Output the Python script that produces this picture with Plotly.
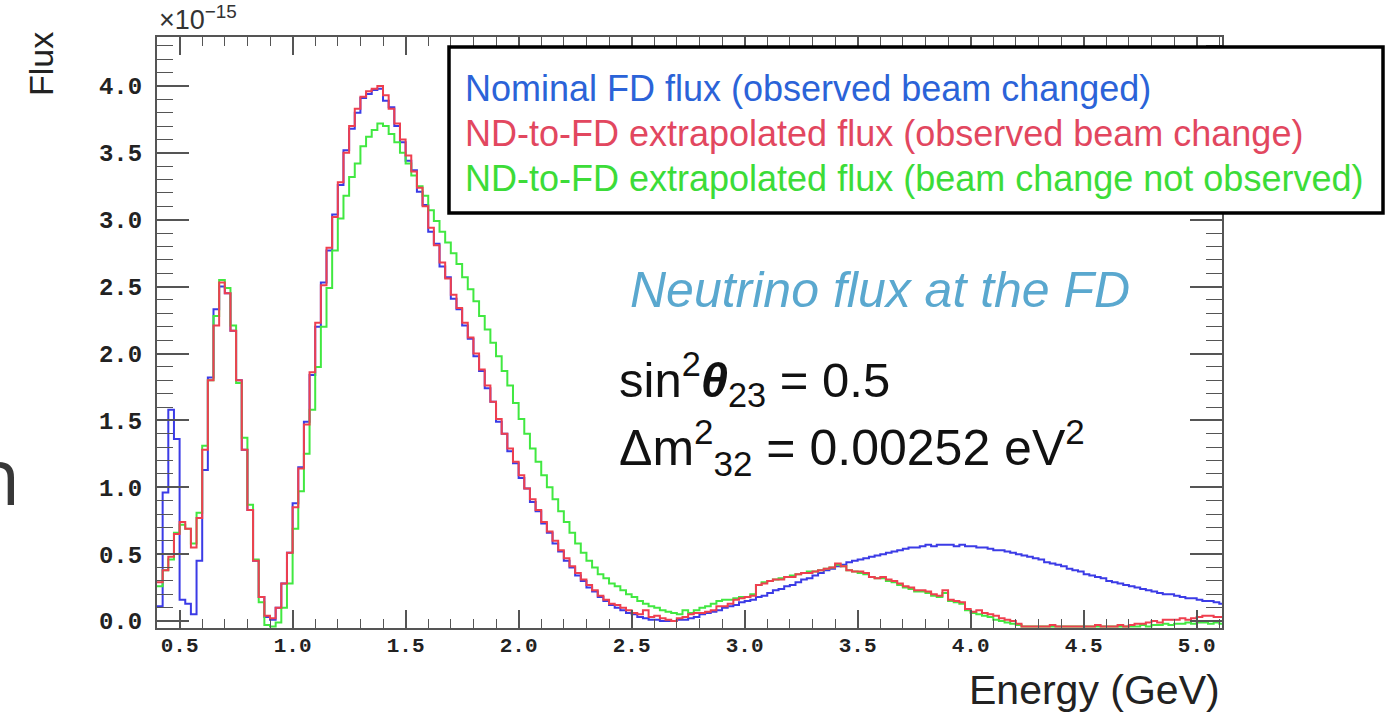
import plotly.graph_objects as go

# Binning of the energy histograms (GeV)
E_MIN = 0.4
BIN_W = 0.025

# Flux per bin, in units of 1e-15
nominal_fd = [
    0.11, 0.96, 1.58, 1.36, 0.16, 0.13, 0.05, 0.45, 1.13, 1.82,
    2.33, 2.50, 2.45, 2.17, 1.80, 1.28, 0.83, 0.45, 0.18, 0.03,
    0.01, 0.10, 0.28, 0.51, 0.88, 1.15, 1.49,
    1.84, 2.20, 2.53, 2.77, 3.04, 3.26, 3.52, 3.68, 3.80, 3.91,
    3.94, 3.97, 3.98, 3.89, 3.84, 3.70, 3.58, 3.44, 3.37, 3.21,
    3.11, 2.91, 2.82, 2.65, 2.57, 2.41, 2.33, 2.21, 2.11, 1.98,
    1.87, 1.74, 1.64, 1.49, 1.40, 1.27, 1.18, 1.07, 0.99, 0.89,
    0.82, 0.73, 0.66, 0.58, 0.52, 0.45, 0.40, 0.34, 0.30, 0.25,
    0.22, 0.18, 0.15, 0.12, 0.10, 0.08, 0.06, 0.05, 0.03, 0.02,
    0.01, 0.01, 0.00, 0.00, 0.00, 0.01, 0.01, 0.02, 0.03,
    0.05, 0.06, 0.07, 0.08, 0.10, 0.11, 0.12, 0.14, 0.15, 0.16,
    0.18, 0.19, 0.21, 0.23, 0.24, 0.26, 0.27, 0.29, 0.31, 0.32,
    0.34, 0.36, 0.38, 0.39, 0.41, 0.42, 0.44, 0.45, 0.46, 0.47,
    0.48, 0.49, 0.50, 0.51, 0.52, 0.53, 0.54, 0.55, 0.55, 0.56,
    0.57, 0.56, 0.57, 0.57, 0.57, 0.56, 0.57, 0.56, 0.56, 0.55,
    0.55, 0.54, 0.53, 0.53, 0.52, 0.51, 0.50, 0.49, 0.48, 0.47,
    0.46, 0.44, 0.43, 0.42, 0.41, 0.39, 0.38, 0.37, 0.35, 0.34,
    0.33, 0.32, 0.30, 0.29, 0.28, 0.27, 0.26, 0.25, 0.24, 0.23,
    0.22, 0.21, 0.20, 0.20, 0.19, 0.18, 0.17, 0.17, 0.16, 0.15,
    0.15, 0.14, 0.13,
]

extrap_observed = [
    0.29, 0.38, 0.48, 0.65, 0.74, 0.69, 0.55, 0.77, 1.28, 1.80,
    2.21, 2.53, 2.45, 2.17, 1.80, 1.28, 0.83, 0.45, 0.18, 0.04,
    0.02, 0.10, 0.28, 0.51, 0.85, 1.14, 1.47,
    1.86, 2.23, 2.51, 2.79, 3.02, 3.28, 3.50, 3.70, 3.83, 3.92,
    3.96, 3.98, 4.00, 3.93, 3.83, 3.72, 3.60, 3.48, 3.36, 3.24,
    3.10, 2.94, 2.81, 2.68, 2.56, 2.44, 2.34, 2.23, 2.12, 2.00,
    1.88, 1.76, 1.64, 1.51, 1.40, 1.29, 1.19, 1.09, 0.99, 0.91,
    0.83, 0.74, 0.67, 0.60, 0.53, 0.47, 0.41, 0.36, 0.31, 0.27,
    0.23, 0.19, 0.16, 0.13, 0.12, 0.10, 0.08, 0.06, 0.05, 0.08,
    0.03, 0.04, 0.02, 0.01, 0.00, 0.02, 0.03, 0.05, 0.06,
    0.06, 0.07, 0.08, 0.11, 0.11, 0.13, 0.16, 0.17,
    0.18, 0.19, 0.27, 0.28, 0.30, 0.31, 0.31, 0.33, 0.33, 0.35,
    0.36, 0.36, 0.37, 0.38, 0.39, 0.40, 0.43, 0.41, 0.38, 0.37,
    0.37, 0.36, 0.33, 0.32, 0.33, 0.31, 0.30, 0.28, 0.26, 0.25,
    0.23, 0.23, 0.22, 0.20, 0.19, 0.23, 0.16, 0.15, 0.14, 0.09,
    0.07, 0.08, 0.06, 0.05, 0.04, 0.02, 0.01, 0.00, -0.02,
    -0.04, -0.04, -0.04, -0.04, -0.04, -0.03, -0.04, -0.04, -0.04, -0.04,
    -0.04, -0.04, -0.04, -0.03, -0.04, -0.04, -0.04, -0.03, -0.04,
    -0.03, -0.02, -0.02, -0.01, 0.00, -0.01, 0.01, 0.01, 0.01, 0.02,
    0.01, 0.02, 0.03, 0.04, 0.04, 0.03, 0.03,
]

extrap_not_observed = [
    0.26, 0.38, 0.46, 0.66, 0.72, 0.69, 0.58, 0.81, 1.31, 1.80,
    2.28, 2.55, 2.49, 2.21, 1.78, 1.37, 0.87, 0.46, 0.14, -0.03,
    -0.04, -0.01, 0.10, 0.28, 0.69, 0.97, 1.25,
    1.58, 1.90, 2.20, 2.49, 2.77, 3.01, 3.18, 3.32, 3.42, 3.55,
    3.62, 3.67, 3.72, 3.70, 3.64, 3.58, 3.50, 3.42, 3.33, 3.25,
    3.18, 3.07, 2.99, 2.91, 2.83, 2.75, 2.67, 2.57, 2.48, 2.39,
    2.28, 2.18, 2.08, 1.98, 1.87, 1.76, 1.63, 1.51, 1.40, 1.29,
    1.19, 1.09, 1.00, 0.91, 0.82, 0.74, 0.66, 0.58, 0.51, 0.45,
    0.40, 0.35, 0.32, 0.28, 0.26, 0.23, 0.20, 0.18, 0.15, 0.13,
    0.11, 0.10, 0.08, 0.07, 0.06, 0.05, 0.08, 0.06, 0.08,
    0.10, 0.11, 0.13, 0.15, 0.16, 0.16, 0.17, 0.18,
    0.18, 0.20, 0.27, 0.29, 0.30, 0.31, 0.32, 0.33, 0.34, 0.35,
    0.36, 0.37, 0.37, 0.38, 0.39, 0.40, 0.42, 0.41, 0.38, 0.37,
    0.36, 0.35, 0.33, 0.32, 0.32, 0.30, 0.29, 0.27, 0.25, 0.24,
    0.22, 0.22, 0.21, 0.19, 0.18, 0.21, 0.15, 0.14, 0.13, 0.08,
    0.06, 0.05, 0.04, 0.03, 0.01, 0.00, -0.01, -0.02, -0.03,
    -0.04, -0.04, -0.04, -0.04, -0.04, -0.04, -0.04, -0.04, -0.04, -0.04,
    -0.04, -0.04, -0.04, -0.04, -0.04, -0.04, -0.04, -0.04, -0.04,
    -0.04, -0.04, -0.03, -0.04, -0.03, -0.03, -0.02, -0.03, -0.02, -0.02,
    -0.01, -0.02, -0.01, -0.01, -0.02, -0.01, -0.02,
]

series_names = [
    "Nominal FD flux (observed beam changed)",
    "ND-to-FD extrapolated flux (observed beam change)",
    "ND-to-FD extrapolated flux (beam change not observed)",
]
line_colors = ["#3b3be6", "#41e841", "#ef3f4f"]
text_colors = ["#2b63d8", "#e2475f", "#3cdc38"]

n_bins = len(nominal_fd)
assert len(extrap_observed) == n_bins and len(extrap_not_observed) == n_bins
edges = [E_MIN + BIN_W * i for i in range(n_bins + 1)]


def step(vals):
    return vals + [vals[-1]]


fig = go.Figure()
# draw order: nominal, then "not observed", then "observed" on top
for vals, color in [(nominal_fd, line_colors[0]),
                    (extrap_not_observed, line_colors[1]),
                    (extrap_observed, line_colors[2])]:
    fig.add_trace(go.Scatter(
        x=edges, y=step(vals), mode="lines",
        line=dict(shape="hv", color=color, width=2),
        showlegend=False, hoverinfo="skip",
    ))

W, H = 1389, 717
L, R, T, B = 157, 1222, 37, 628


def px(x):
    return (x - L) / (R - L)


def py(y):
    return (B - y) / (B - T)


axis_common = dict(
    showline=True, linecolor="#555", linewidth=2, mirror="allticks",
    ticks="inside", tickcolor="#555", tickwidth=1.5,
    showgrid=False, zeroline=False, tickformat=".1f",
)

fig.update_xaxes(
    range=[0.4, 5.112], tick0=0, dtick=0.5, ticklen=18,
    minor=dict(dtick=0.1, tick0=0, ticklen=9, ticks="inside",
               tickcolor="#555", tickwidth=1.2, showgrid=False),
    tickfont=dict(family="Liberation Mono", size=21, color="#222", weight="bold"),
    ticklabelstandoff=-3, **axis_common,
)
fig.update_yaxes(
    range=[-0.052, 4.366], tick0=0, dtick=0.5, ticklen=32,
    minor=dict(dtick=0.1, tick0=0, ticklen=16, ticks="inside",
               tickcolor="#555", tickwidth=1.2, showgrid=False),
    tickfont=dict(family="Liberation Mono", size=24, color="#222", weight="bold"),
    ticklabelstandoff=8, **axis_common,
)

annotations = [
    dict(text="Flux", x=px(41), y=py(64), textangle=-90,
         font=dict(family="Liberation Sans", size=34, color="#222")),
    dict(text="Energy (GeV)", x=1.0, y=py(690), xanchor="right",
         font=dict(family="Liberation Sans", size=41, color="#222")),
    dict(text="×10<sup>−15</sup>", x=0.0, y=1.0, xanchor="left", yanchor="bottom",
         font=dict(family="Liberation Sans", size=27, color="#333")),
    dict(text="n", x=px(22), y=py(474), xanchor="right",
         font=dict(family="Open Sans", size=79, color="#383838")),
    dict(text="Neutrino flux at the FD", x=px(880), y=py(290),
         font=dict(family="Liberation Sans", size=50, color="#5aa8cf", style="italic")),
    dict(text="sin<sup>2</sup><b><i>θ</i></b><sub>23</sub> = 0.5",
         x=px(617), y=py(380), xanchor="left",
         font=dict(family="Liberation Sans", size=49, color="#111")),
    dict(text="Δm<sup>2</sup><sub>32</sub> = 0.00252 eV<sup>2</sup>",
         x=px(617), y=py(447), xanchor="left",
         font=dict(family="Liberation Sans", size=50, color="#111")),
]
for name, color, yc in zip(series_names, text_colors, [88, 133, 178]):
    annotations.append(dict(
        text=name, x=px(463), y=py(yc), xanchor="left",
        font=dict(family="Liberation Sans", size=36, color=color)))
for a in annotations:
    a.setdefault("xref", "paper")
    a.setdefault("yref", "paper")
    a.setdefault("xanchor", "center")
    a.setdefault("yanchor", "middle")
    a.setdefault("showarrow", False)

fig.update_layout(
    width=W, height=H,
    margin=dict(l=L, r=W - R, t=T, b=H - B, pad=0),
    paper_bgcolor="white", plot_bgcolor="white",
    annotations=annotations,
    shapes=[dict(type="rect", xref="paper", yref="paper",
                 x0=px(449), x1=px(1383), y0=py(213), y1=py(47),
                 line=dict(color="black", width=3.5), fillcolor="white",
                 layer="above")],
)

fig.write_html("out.html")
